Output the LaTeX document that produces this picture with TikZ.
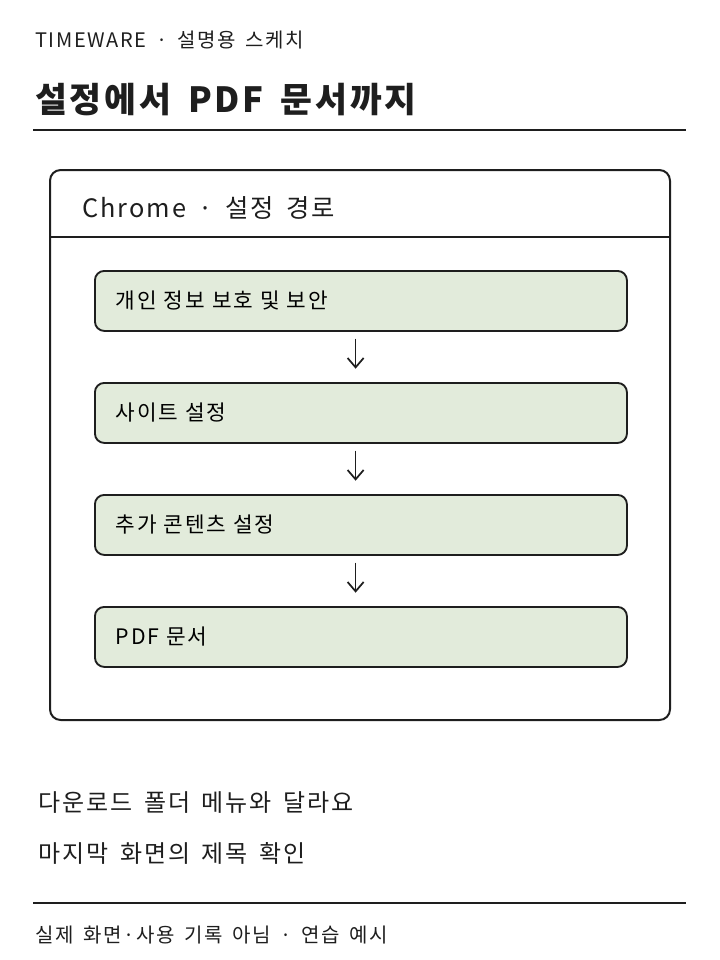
\documentclass[tikz,border=0pt]{standalone}
\usepackage{fontspec}
\setmainfont[LetterSpace=8,WordSpace=1.6]{Noto Sans CJK KR}
\usetikzlibrary{arrows.meta}
\definecolor{stepgreen}{HTML}{E2EBDB}
\definecolor{ink}{HTML}{1E1E1E}

\tikzstyle{stepbox} = [rectangle, draw=ink, line width=1.4pt, fill=stepgreen,
    rounded corners=7pt, minimum width=532*0.75pt, minimum height=60*0.75pt,
    anchor=north west, text width=490*0.75pt, align=left, inner xsep=18*0.75pt,
    font=\fontsize{16}{18}\selectfont]
\tikzstyle{sketchtext} = [anchor=west, inner sep=0pt, text=ink]
\tikzstyle{flow} = [draw=ink, line width=1.3pt, -{Straight Barb[length=7pt,width=12pt]}]

\begin{document}
\begin{tikzpicture}[x=0.75pt,y=-0.75pt]
	\useasboundingbox (0,0) rectangle (720,960);
	\node [sketchtext, font=\fontsize{15}{17}\selectfont] (brand) at (35,40) {TIMEWARE · 설명용 스케치};
	\node [sketchtext, font=\bfseries\fontsize{26}{28}\selectfont] (title) at (35,100) {설정에서 PDF 문서까지};
	\draw [ink, line width=1.3pt] (33,130) -- (686,130);
	%
	\draw [ink, line width=1.5pt, rounded corners=8pt] (50,170) rectangle (670,720);
	\draw [ink, line width=1.3pt] (50,237) -- (670,237);
	\node [sketchtext, font=\fontsize{19}{21}\selectfont] (head) at (82,208) {Chrome · 설정 경로};
	%
	\node [stepbox] (privacy) at (94,270) {개인 정보 보호 및 보안};
	\node [stepbox] (site) at (94,382) {사이트 설정};
	\node [stepbox] (extra) at (94,494) {추가 콘텐츠 설정};
	\node [stepbox] (pdf) at (94,606) {PDF 문서};
	%
	\draw [flow] ([xshift=-4pt,yshift=-5pt]privacy.south) -- ([xshift=-4pt,yshift=10pt]site.north);
	\draw [flow] ([xshift=-4pt,yshift=-5pt]site.south) -- ([xshift=-4pt,yshift=10pt]extra.north);
	\draw [flow] ([xshift=-4pt,yshift=-5pt]extra.south) -- ([xshift=-4pt,yshift=10pt]pdf.north);
	%
	\node [sketchtext, font=\fontsize{18}{20}\selectfont] (note1) at (38,803) {다운로드 폴더 메뉴와 달라요};
	\node [sketchtext, font=\fontsize{18}{20}\selectfont] (note2) at (38,853) {마지막 화면의 제목 확인};
	\draw [ink, line width=1.3pt] (33,903) -- (686,903);
	\node [sketchtext, font=\fontsize{15}{17}\selectfont] (foot) at (35,935) {실제 화면·사용 기록 아님 · 연습 예시};
\end{tikzpicture}
\end{document}
